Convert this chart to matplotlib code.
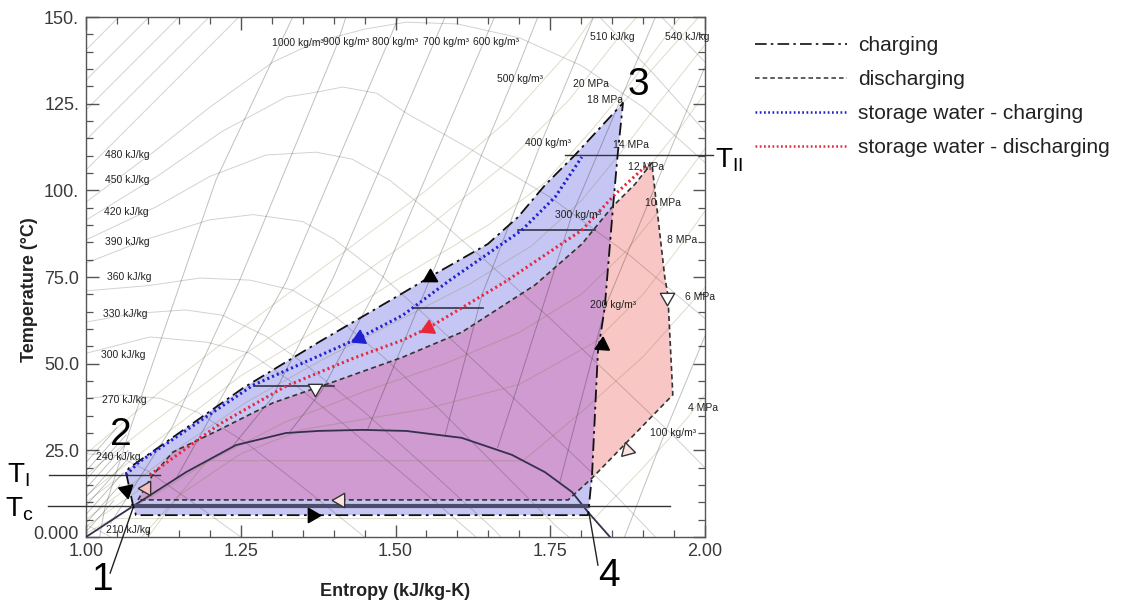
import matplotlib
matplotlib.use("Agg")
import matplotlib.pyplot as plt
import matplotlib.transforms as mtransforms
from matplotlib.lines import Line2D

plt.rcParams['font.family'] = ['Liberation Sans', 'DejaVu Sans']
plt.rcParams['mathtext.fontset'] = 'custom'
plt.rcParams['mathtext.rm'] = 'Liberation Sans'

# ---- cycle data (entropy kJ/kg-K, temperature C) ----
charge_s = [1.0646, 1.0759, 1.0808, 1.811, 1.8175, 1.827, 1.838, 1.851, 1.859, 1.8675,
            1.790, 1.7415, 1.698, 1.649, 1.564, 1.512, 1.376, 1.254, 1.1615, 1.0695, 1.0646]
charge_T = [18.7, 9.2, 6.3, 6.3, 17.9, 53.4, 66.1, 94.4, 110.5, 125.2,
            110.2, 101.5, 92.3, 84.5, 75.9, 70.4, 56.2, 43.0, 31.4, 19.9, 18.7]

dis_s = [1.084, 1.1066, 1.1405, 1.215, 1.302, 1.399, 1.512, 1.6074, 1.7254, 1.801,
         1.850, 1.887, 1.914, 1.935, 1.940, 1.948, 1.8175, 1.779, 1.084]
dis_T = [10.7, 17.6, 24.5, 30.9, 38.7, 44.7, 51.9, 59.1, 72.7, 84.5,
         95.2, 101.8, 107.9, 75.0, 69.8, 41.0, 17.0, 10.7, 10.7]

store_chg_s = [1.0646, 1.0856, 1.270, 1.441, 1.512, 1.588, 1.704, 1.758, 1.801]
store_chg_T = [17.9, 21.6, 43.8, 57.4, 64.0, 74.1, 88.5, 98.1, 109.6]

store_dis_s = [1.103, 1.215, 1.323, 1.431, 1.5116, 1.553, 1.677, 1.801, 1.855, 1.908]
store_dis_T = [17.9, 32.5, 43.5, 51.5, 56.8, 60.3, 73.6, 88.5, 98.9, 107.6]

dome_s = [1.000, 1.076, 1.1616, 1.242, 1.323, 1.376, 1.446, 1.517, 1.607, 1.688,
          1.7415, 1.785, 1.811, 1.8465]
dome_T = [0.0, 8.9, 18.7, 26.5, 30.0, 30.6, 30.9, 30.6, 28.6, 23.7, 18.7, 13.0, 7.2, 0.0]

# short horizontal pinch lines (T, s_start, s_end)
pinch_T = [43.5, 66.0, 88.5]
pinch_s0 = [1.271, 1.528, 1.698]
pinch_s1 = [1.400, 1.641, 1.822]

T_I, T_II, T_C = 17.9, 110.2, 8.9

# ---- background isolines ----
isochores = [
    [(1.334, 150), (1.21, 103), (1.071, 31), (1.03, 8), (1.022, 0)],
    [(1.42, 150), (1.404, 141.3), (1.247, 73.5), (1.14, 32), (1.04, 4)],
    [(1.505, 150), (1.4847, 141.3), (1.323, 73.5), (1.146, 17)],
    [(1.58, 150), (1.40, 75), (1.30, 40), (1.236, 26)],
    [(1.66, 150), (1.48, 75), (1.38, 42), (1.33, 30.5)],
    [(1.73, 150), (1.69, 132), (1.55, 72), (1.455, 31)],
    [(1.82, 150), (1.735, 113.6), (1.64, 70), (1.58, 29.3)],
    [(1.92, 150), (1.785, 92.9), (1.70, 45), (1.665, 25.8)],
    [(2.0, 135.7), (1.84, 66.9), (1.765, 15.5)],
    [(2.0, 58), (1.935, 30), (1.87, 0)],
]
isenthalps = [
    [(1.0, 140.5), (1.053, 150)],
    [(1.0, 131.8), (1.102, 150)],
    [(1.0, 123.2), (1.150, 150)],
    [(1.0, 114.5), (1.199, 150)],
    [(1.0, 105.9), (1.247, 150)],
    [(1.0, 96.6), (1.113, 111.6), (1.20, 124), (1.302, 137), (1.372, 142.8), (1.45, 146.5),
     (1.517, 148.5), (1.60, 148), (1.70, 144), (1.80, 136), (1.90, 124), (2.0, 108)],
    [(1.0, 91.4), (1.113, 103.8), (1.22, 117), (1.323, 126.9), (1.372, 128.3), (1.415, 129.8),
     (1.47, 128), (1.52, 122), (1.62, 112), (1.75, 98), (1.88, 81), (2.0, 63)],
    [(1.0, 85.7), (1.113, 95.2), (1.20, 104), (1.291, 110.2), (1.372, 111), (1.43, 109),
     (1.49, 103), (1.56, 93), (1.65, 79), (1.75, 63), (1.85, 46), (1.95, 29), (2.0, 20)],
    [(1.0, 79), (1.10, 86), (1.20, 91.5), (1.27, 93), (1.35, 91), (1.40, 86), (1.48, 75),
     (1.56, 62), (1.65, 47), (1.75, 30), (1.85, 13), (1.92, 0)],
    [(1.0, 71), (1.10, 72.5), (1.184, 74.7), (1.265, 74.1), (1.334, 71.2), (1.40, 64),
     (1.48, 52), (1.57, 37), (1.66, 21), (1.76, 3), (1.78, 0)],
    [(1.0, 62), (1.08, 64.5), (1.16, 65.5), (1.22, 64), (1.29, 58), (1.36, 49), (1.45, 36),
     (1.55, 20), (1.66, 2), (1.67, 0)],
    [(1.0, 53), (1.1034, 57.7), (1.195, 56.2), (1.265, 53), (1.33, 45), (1.42, 32),
     (1.52, 17), (1.63, 0)],
    [(1.0, 40), (1.06, 41), (1.12, 40), (1.18, 36), (1.26, 27), (1.36, 13), (1.45, 0)],
    [(1.0, 24), (1.05, 23.5), (1.10, 19), (1.18, 9), (1.25, 0)],
    [(1.0, 3.5), (1.03, 1), (1.04, 0)],
    [(1.83, 150), (1.92, 133), (2.0, 117)],
    [(1.93, 150), (2.0, 137)],
]
isobars = [
    [(1.0, 24), (1.12, 42), (1.25, 60), (1.40, 80), (1.55, 100), (1.68, 120), (1.78, 140), (1.82, 150)],
    [(1.0, 18), (1.10, 32), (1.25, 52), (1.40, 70), (1.55, 89), (1.68, 108), (1.78, 126), (1.86, 144), (1.89, 150)],
    [(1.0, 12), (1.065, 21), (1.16, 34), (1.25, 46.5), (1.376, 60), (1.51, 75), (1.65, 90),
     (1.74, 102), (1.82, 118), (1.88, 131), (1.96, 150)],
    [(1.0, 10), (1.0646, 18.7)],
    [(1.8675, 125.2), (1.92, 136), (1.99, 150)],
    [(1.0, 5), (1.08, 16), (1.16, 27), (1.26, 39), (1.38, 51), (1.50, 62), (1.62, 73),
     (1.72, 84), (1.80, 97), (1.86, 110), (1.92, 124), (2.0, 142)],
    [(1.0, 3), (1.10, 15.3)],
    [(1.914, 107.9), (1.96, 118), (2.0, 128)],
    [(1.0, 1), (1.10, 11), (1.20, 22), (1.32, 33), (1.45, 42), (1.58, 50), (1.70, 59),
     (1.80, 70), (1.87, 82), (1.93, 95), (2.0, 112)],
    [(1.09, 0), (1.15, 12), (1.25, 24), (1.35, 31), (1.45, 34), (1.55, 37), (1.70, 44),
     (1.82, 56), (1.90, 70), (1.96, 84), (2.0, 94)],
    [(1.10, 0), (1.15, 12), (1.196, 22), (1.706, 22), (1.80, 36), (1.90, 52), (1.98, 68), (2.0, 72)],
    [(1.045, 5.3), (1.821, 5.3), (1.90, 20), (1.97, 34), (2.0, 41)],
]
hatch = [
    [(1.0, 1.5), (1.045, 10.5)],
    [(1.0, 4), (1.055, 15)],
    [(1.0, 6.5), (1.06, 18.5)],
    [(1.0, 9), (1.065, 22)],
    [(1.0, 11.5), (1.068, 25)],
    [(1.0, 14), (1.068, 27.5)],
    [(1.0, 16.5), (1.065, 29.5)],
    [(1.0, 19), (1.06, 31)],
    [(1.0, 21.5), (1.05, 31.5)],
]

# isoline labels: text, s, T
iso_text = ['480 kJ/kg', '450 kJ/kg', '420 kJ/kg', '390 kJ/kg', '360 kJ/kg', '330 kJ/kg',
            '300 kJ/kg', '270 kJ/kg', '240 kJ/kg', '210 kJ/kg',
            '1000 kg/m³', '900 kg/m³', '800 kg/m³', '700 kg/m³', '600 kg/m³',
            '500 kg/m³', '400 kg/m³', '300 kg/m³', '200 kg/m³', '100 kg/m³',
            '510 kJ/kg', '540 kJ/kg',
            '20 MPa', '18 MPa', '14 MPa', '12 MPa', '10 MPa', '8 MPa', '6 MPa', '4 MPa']
iso_s = [1.031, 1.031, 1.029, 1.031, 1.034, 1.028, 1.024, 1.026, 1.016, 1.032,
         1.3005, 1.383, 1.462, 1.544, 1.625, 1.664, 1.709, 1.758, 1.814, 1.911,
         1.814, 1.935,
         1.787, 1.809, 1.851, 1.876, 1.903, 1.939, 1.968, 1.9725]
iso_T = [110.2, 102.9, 93.7, 85.1, 75.0, 64.3, 52.5, 39.5, 23.1, 2.0,
         142.5, 142.8, 142.8, 142.8, 142.8, 132.1, 113.6, 92.9, 66.9, 30.0,
         144.2, 144.2,
         130.7, 126.0, 113.1, 106.7, 96.3, 85.7, 69.2, 37.2]

# direction arrows: s, T, pointing angle (deg), face colour
arrow_s = [1.365, 1.8336, 1.556, 1.0646, 1.410, 1.097, 1.370, 1.9386, 1.874, 1.441, 1.5525]
arrow_T = [6.3, 55.4, 75.0, 13.6, 10.7, 14.1, 42.9, 69.2, 25.1, 57.4, 60.3]
arrow_dir = [0, 86, 210, -78, 180, 60, -90, -90, 225, 205, 205]
arrow_fc = ['black', 'black', 'black', 'black', '#fde2e2', '#f8c0c0', 'white', 'white',
            '#fde2e2', '#2020d0', '#e8283a']
arrow_ec = ['black', 'black', 'black', 'black', '#333333', '#333333', '#333333', '#333333',
            '#333333', '#2020d0', '#e8283a']

xticks = [1.0, 1.25, 1.5, 1.75, 2.0]
xtick_labels = ['1.00', '1.25', '1.50', '1.75', '2.00']
yticks = [0, 25, 50, 75, 100, 125, 150]
ytick_labels = ['0.000', '25.0', '50.0', '75.0', '100.', '125.', '150.']

lavender = '#c6c6f5'
pink = '#f9c6c6'
purple = '#cf9bd0'
blue = '#2020d0'
red = '#e8283a'

fig = plt.figure(figsize=(11.21, 6.08), dpi=100)
ax = fig.add_axes([86 / 1121, 1 - 537 / 608, 619 / 1121, 520 / 608])
ax.set_xlim(1.0, 2.0)
ax.set_ylim(0, 150)

# fills
chg_patch = ax.fill(charge_s, charge_T, color=lavender, lw=0, zorder=1)[0]
ax.fill(dis_s, dis_T, color=pink, lw=0, zorder=1.1)
over = ax.fill(dis_s, dis_T, color=purple, lw=0, zorder=1.2)[0]
over.set_clip_path(chg_patch)

# background isolines
for line in isochores:
    ax.plot([p[0] for p in line], [p[1] for p in line], color='black', alpha=0.25, lw=0.7, zorder=2)
for line in isenthalps:
    ax.plot([p[0] for p in line], [p[1] for p in line], color='black', alpha=0.18, lw=0.7, zorder=2)
for line in isobars:
    ax.plot([p[0] for p in line], [p[1] for p in line], color='#707020', alpha=0.24, lw=0.7, zorder=2)
for line in hatch:
    ax.plot([p[0] for p in line], [p[1] for p in line], color='black', alpha=0.28, lw=0.6, zorder=2)

for txt, s, T in zip(iso_text, iso_s, iso_T):
    ax.text(s, T, txt, fontsize=7.5, color='#222222', ha='left', va='center', zorder=5)

# saturation dome
ax.plot(dome_s, dome_T, color='#34304e', lw=1.3, zorder=3)

# reference temperature lines
ax.plot([0.940, 1.1195], [T_I, T_I], color='#333333', lw=1.0, clip_on=False, zorder=3)
ax.plot([1.774, 2.013], [T_II, T_II], color='#333333', lw=1.0, clip_on=False, zorder=3)
ax.plot([0.939, 1.943], [T_C, T_C], color='#333333', lw=1.0, clip_on=False, zorder=3)
ax.plot([1.076, 1.811], [T_C, T_C], color='#4d4d6b', lw=3.0, zorder=3)
for T, s0, s1 in zip(pinch_T, pinch_s0, pinch_s1):
    ax.plot([s0, s1], [T, T], color='#333344', lw=1.2, zorder=3.5)

# cycles
dashdot = (0, (7, 2.5, 1.5, 2.5))
ax.plot(charge_s, charge_T, color='#111111', lw=1.3, linestyle=dashdot, zorder=4)
ax.plot(dis_s, dis_T, color='#333333', lw=1.2, linestyle=(0, (3, 2)), zorder=4)
ax.plot(store_chg_s, store_chg_T, color=blue, lw=2.2, linestyle=(0, (0.7, 1.0)), zorder=4)
ax.plot(store_dis_s, store_dis_T, color=red, lw=2.2, linestyle=(0, (0.7, 1.0)), zorder=4)

for s, T, d, fc, ec in zip(arrow_s, arrow_T, arrow_dir, arrow_fc, arrow_ec):
    ax.plot([s], [T], marker=(3, 0, d - 90), ms=12, mfc=fc, mec=ec, mew=1.0, zorder=6)

# leader lines for state points
ax.plot([1.076, 1.039], [8.4, -10.4], color='#222222', lw=1.0, clip_on=False, zorder=3)
ax.plot([1.8126, 1.827], [6.9, -8.1], color='#222222', lw=1.0, clip_on=False, zorder=3)

ax.text(1.0275, -12.4, '1', fontsize=28, ha='center', va='center')
ax.text(1.0565, 29.4, '2', fontsize=28, ha='center', va='center')
ax.text(1.892, 130.4, '3', fontsize=28, ha='center', va='center')
ax.text(1.845, -11.2, '4', fontsize=28, ha='center', va='center')

ax.text(2.016, 106.7, r'$\mathregular{T_{II}}$', fontsize=20, ha='left', va='baseline')
ax.text(0.8724, 15.6, r'$\mathregular{T_{I}}$', fontsize=20, ha='left', va='baseline')
ax.text(0.869, 5.8, r'$\mathregular{T_{c}}$', fontsize=20, ha='left', va='baseline')

# axes styling
ax.set_xticks(xticks)
ax.set_xticklabels(xtick_labels)
ax.set_yticks(yticks)
ax.set_yticklabels(ytick_labels)
ax.set_xticks([1.0 + 0.05 * i for i in range(21)], minor=True)
ax.set_yticks(list(range(0, 151, 5)), minor=True)
ax.tick_params(which='both', direction='in', top=True, right=True, color='#555555',
               labelsize=13, labelcolor='#3a3a3a')
ax.tick_params(which='major', length=9, width=1.0)
ax.tick_params(which='minor', length=5, width=0.9)
ax.tick_params(axis='x', pad=4.5)
ax.tick_params(axis='y', pad=5)
for sp in ax.spines.values():
    sp.set_color('#555555')
    sp.set_linewidth(1.0)

# nudge the 0.000 label up a little so it clears 1.00
zero_lab = ax.yaxis.get_majorticklabels()[0]
zero_lab.set_transform(zero_lab.get_transform() +
                       mtransforms.ScaledTranslation(0, 3 / 72, fig.dpi_scale_trans))

ax.set_xlabel('Entropy (kJ/kg-K)', fontsize=13, fontweight='bold', color='#222222')
ax.set_ylabel('Temperature (°C)', fontsize=13, fontweight='bold', color='#222222')
ax.xaxis.set_label_coords(0.499, -0.088)
ax.yaxis.set_label_coords(-0.077, 0.475)

handles = [
    Line2D([], [], color='#111111', lw=1.2, linestyle=dashdot),
    Line2D([], [], color='#333333', lw=1.1, linestyle=(0, (3, 2))),
    Line2D([], [], color=blue, lw=1.8, linestyle=(0, (0.7, 1.0))),
    Line2D([], [], color=red, lw=1.8, linestyle=(0, (0.7, 1.0))),
]
labels = ['charging', 'discharging', 'storage water - charging', 'storage water - discharging']
fig.legend(handles, labels, loc='upper left', bbox_to_anchor=(755 / 1121, 1 - 36 / 608),
           frameon=False, fontsize=15, handlelength=4.4, handletextpad=0.55,
           labelspacing=0.72, borderpad=0, borderaxespad=0, labelcolor='#222222')

fig.savefig('out.png', dpi=100)
